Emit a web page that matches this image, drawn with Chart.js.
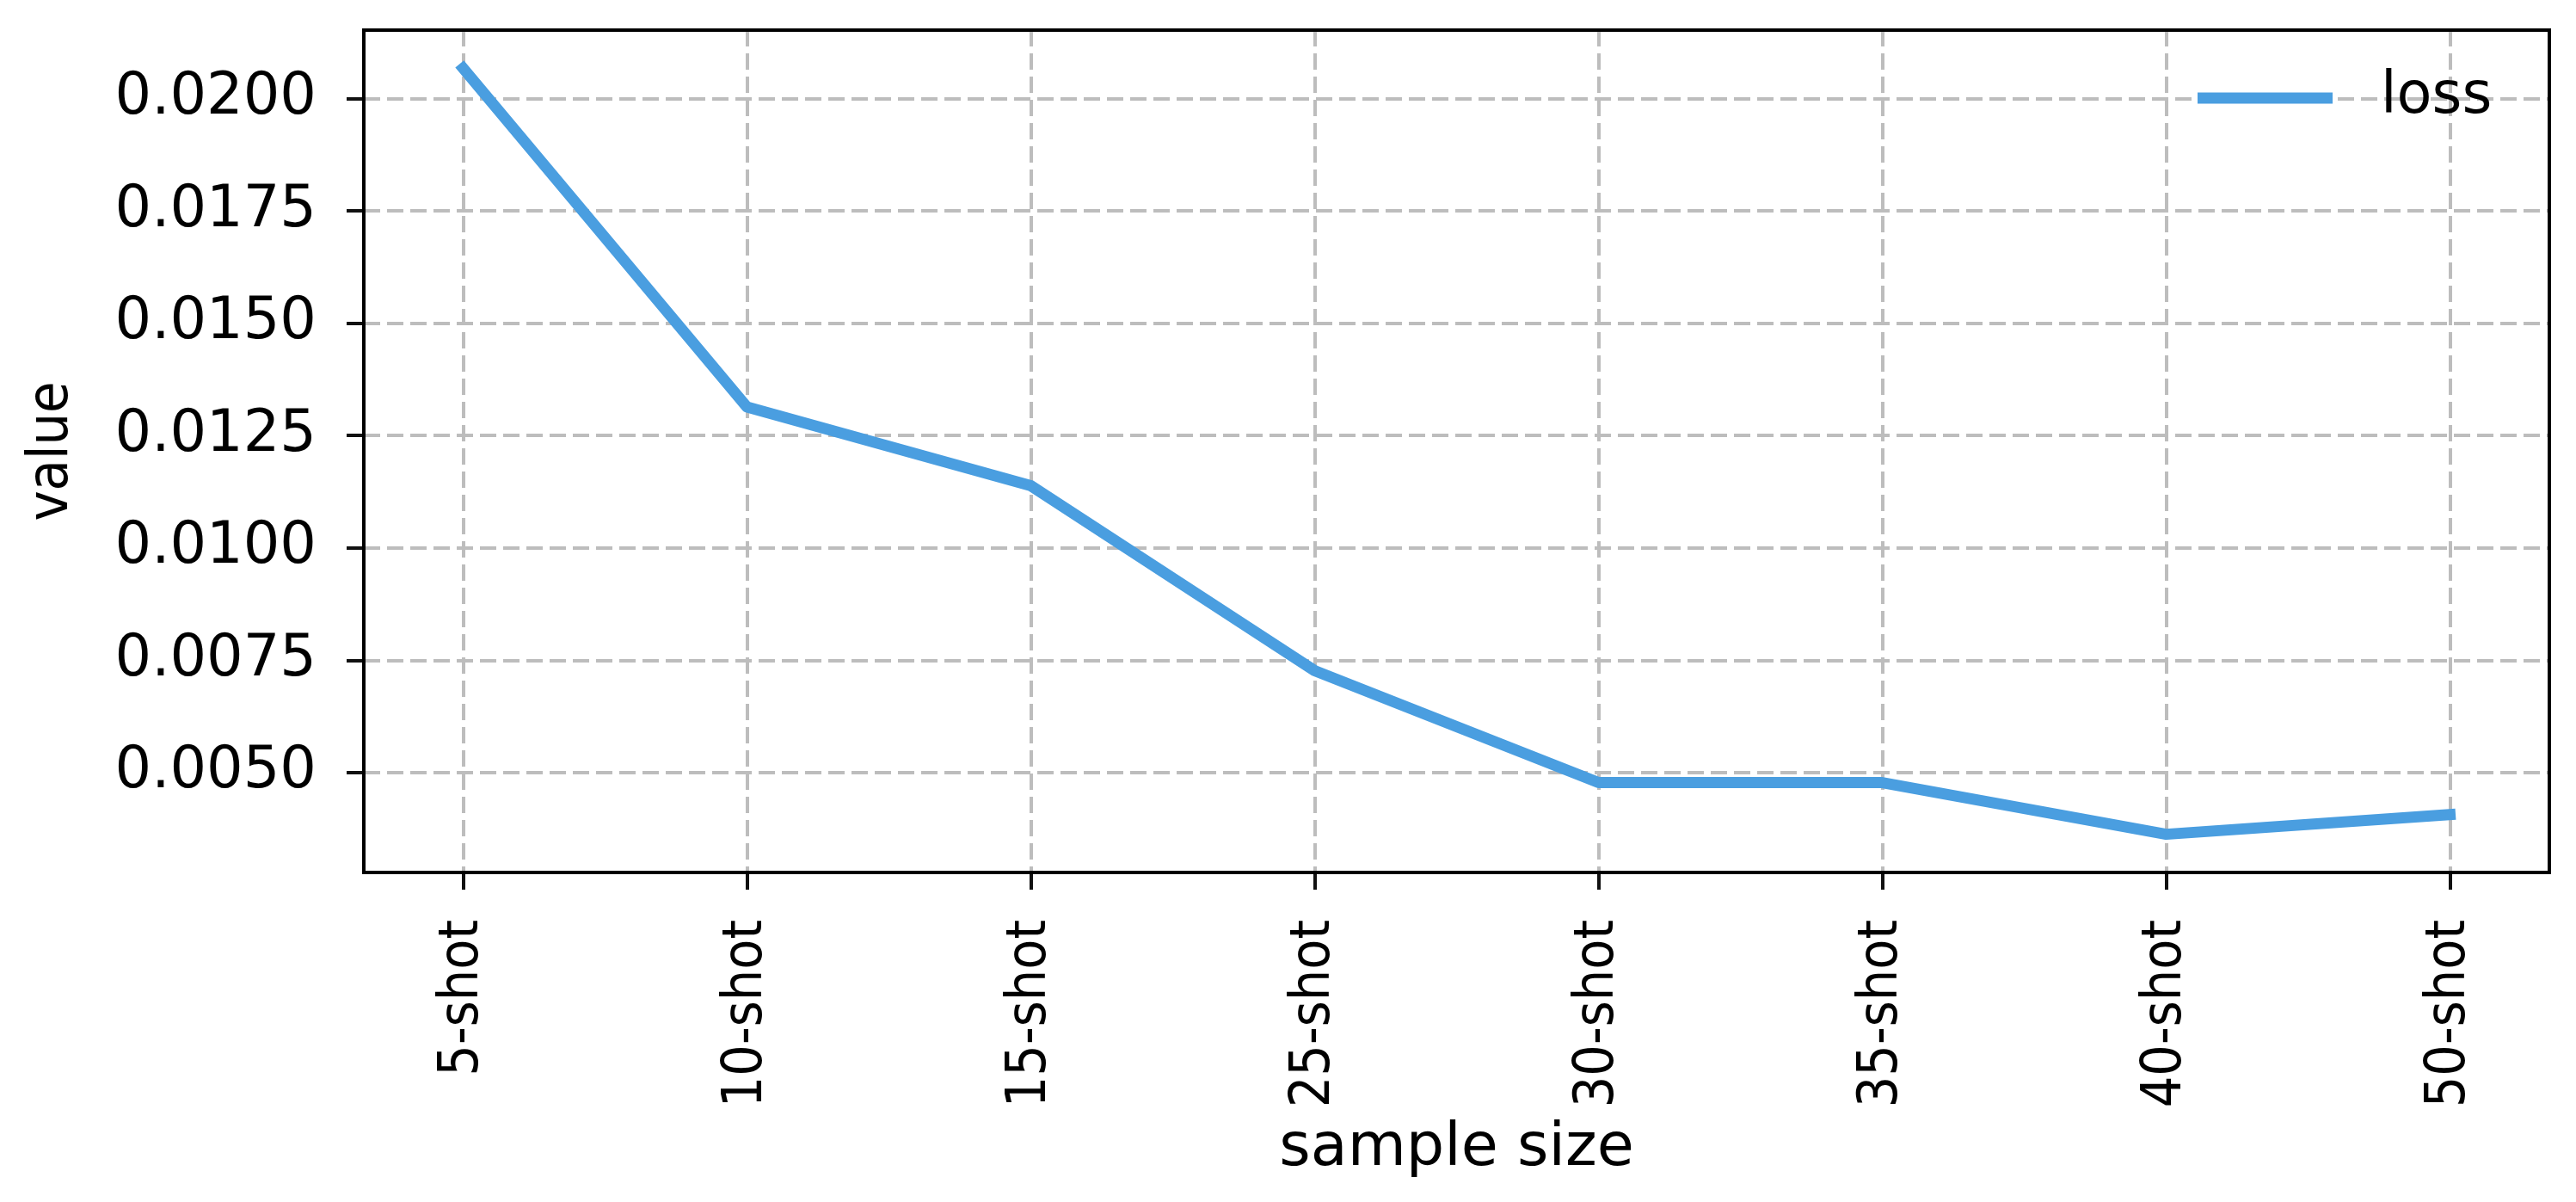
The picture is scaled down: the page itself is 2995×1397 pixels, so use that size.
<!DOCTYPE html>
<html>
<head>
<meta charset="utf-8">
<script src="https://cdn.jsdelivr.net/npm/chart.js@4.4.1/dist/chart.umd.min.js"></script>
<style>
  html, body { margin: 0; padding: 0; background: #fff; }
  canvas { display: block; }
</style>
</head>
<body>
<canvas id="chart" width="2995" height="1397"></canvas>
<script>
const categories = ['5-shot', '10-shot', '15-shot', '25-shot', '30-shot', '35-shot', '40-shot', '50-shot']
const lossValues = [0.02068, 0.01314, 0.01139, 0.00727, 0.00478, 0.00478, 0.00363, 0.00407]
const yTicks = [0.0050, 0.0075, 0.0100, 0.0125, 0.0150, 0.0175, 0.0200]
const yMin = 0.00278
const yMax = 0.02153

const lineColor = '#4a9ee0'
const gridColor = '#bdbdbd'
const fontFamily = "'DejaVu Sans', sans-serif"
const condensedFamily = "'DejaVu Sans Condensed', 'DejaVu Sans', sans-serif"

// matplotlib style frame around the plot
const frame = {
    id: 'frame',
    afterDatasetsDraw(chart) {
        const { ctx, chartArea: a } = chart
        ctx.save()
        ctx.strokeStyle = '#000'
        ctx.lineWidth = 4
        ctx.strokeRect(a.left, a.top, a.right - a.left, a.bottom - a.top)
        ctx.restore()
    }
}

// legend inside the upper right corner
const innerLegend = {
    id: 'innerLegend',
    afterDraw(chart) {
        const { ctx, chartArea: a } = chart
        const ds = chart.data.datasets[0]
        const y = a.top + 79
        ctx.save()
        ctx.strokeStyle = ds.borderColor
        ctx.lineWidth = 13
        ctx.beginPath()
        ctx.moveTo(a.right - 409, y)
        ctx.lineTo(a.right - 252, y)
        ctx.stroke()
        ctx.fillStyle = '#000'
        ctx.font = `67px ${fontFamily}`
        ctx.textBaseline = 'middle'
        ctx.fillText(ds.label, a.right - 196, y)
        ctx.restore()
    }
}

new Chart(document.getElementById('chart'), {
    type: 'line',
    data: {
        datasets: [{
            label: 'loss',
            data: lossValues.map((v, i) => ({ x: i, y: v })),
            borderColor: lineColor,
            borderWidth: 13,
            borderCapStyle: 'square',
            borderJoinStyle: 'round',
            pointRadius: 0,
            tension: 0,
            fill: false
        }]
    },
    options: {
        responsive: false,
        animation: false,
        layout: { padding: { top: 35, right: 31, left: 0, bottom: 0 } },
        plugins: {
            legend: { display: false },
            tooltip: { enabled: false }
        },
        scales: {
            x: {
                type: 'linear',
                min: -0.35,
                max: categories.length - 1 + 0.35,
                afterBuildTicks: scale => { scale.ticks = categories.map((c, i) => ({ value: i })) },
                afterFit: scale => { scale.height = 1397 - 1014 },
                grid: {
                    color: gridColor,
                    lineWidth: 4,
                    tickLength: 20,
                    tickWidth: 4,
                    tickColor: '#111',
                    tickBorderDash: []
                },
                border: { display: false, dash: [19, 8] },
                ticks: {
                    autoSkip: false,
                    minRotation: 90,
                    maxRotation: 90,
                    padding: 35,
                    color: '#000',
                    font: { family: condensedFamily, size: 64 },
                    callback: value => categories[value]
                },
                title: {
                    display: true,
                    text: 'sample size',
                    color: '#000',
                    font: { family: fontFamily, size: 70 },
                    padding: { top: 0, bottom: 19 }
                }
            },
            y: {
                min: yMin,
                max: yMax,
                afterBuildTicks: scale => { scale.ticks = yTicks.map(v => ({ value: v })) },
                afterFit: scale => {
                    scale.width = 423
                    scale.paddingTop = 0
                    scale.paddingBottom = 0
                },
                grid: {
                    color: gridColor,
                    lineWidth: 4,
                    tickLength: 20,
                    tickWidth: 4,
                    tickColor: '#111',
                    tickBorderDash: []
                },
                border: { display: false, dash: [19, 8] },
                ticks: {
                    padding: 35,
                    color: '#000',
                    font: { family: fontFamily, size: 67, lineHeight: 1 },
                    callback: value => value.toFixed(4)
                },
                title: {
                    display: true,
                    text: 'value',
                    color: '#000',
                    font: { family: condensedFamily, size: 66 },
                    padding: { top: 21, bottom: 0 }
                }
            }
        }
    },
    plugins: [frame, innerLegend]
})
</script>
</body>
</html>
